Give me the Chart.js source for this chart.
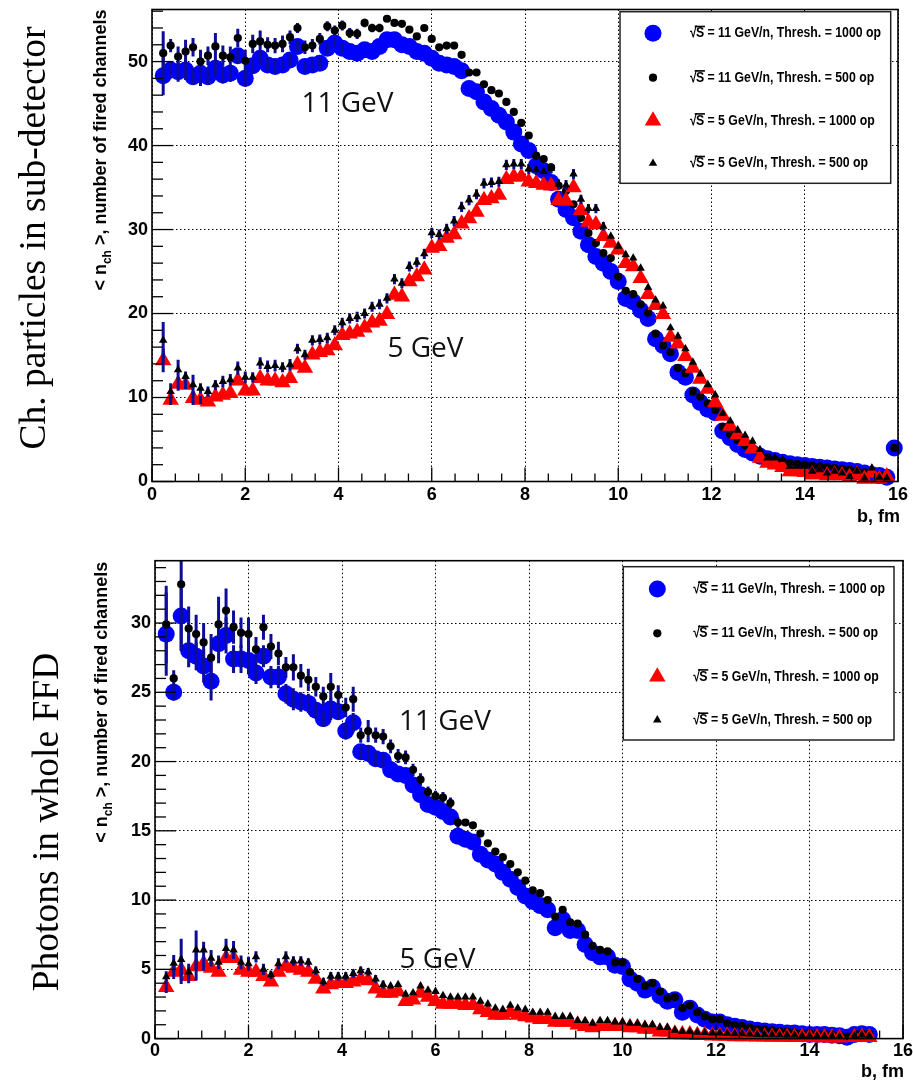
<!DOCTYPE html>
<html>
<head>
<meta charset="utf-8">
<title>Fired channels vs impact parameter</title>
<script src="https://cdn.jsdelivr.net/npm/chart.js@4.4.0/dist/chart.umd.min.js"></script>
<style>
  html, body { margin: 0; padding: 0; background: #fff; }
  #wrap { position: relative; width: 913px; height: 1085px; background: #fff; overflow: hidden; }
  canvas { position: absolute; left: 0; }
</style>
</head>
<body>
<div id="wrap">
  <canvas id="topPanel" width="913" height="525" style="top:0px"></canvas>
  <canvas id="bottomPanel" width="913" height="560" style="top:525px"></canvas>
</div>
<script>
// Impact parameter bin centres, fm
const B = [
  0.24, 0.40, 0.56, 0.72, 0.88, 1.04, 1.20, 1.36, 1.52, 1.68,
  1.84, 2.00, 2.16, 2.32, 2.48, 2.64, 2.80, 2.96, 3.12, 3.28,
  3.44, 3.60, 3.76, 3.92, 4.08, 4.24, 4.40, 4.56, 4.72, 4.88,
  5.04, 5.20, 5.36, 5.52, 5.68, 5.84, 6.00, 6.16, 6.32, 6.48,
  6.64, 6.80, 6.96, 7.12, 7.28, 7.44, 7.60, 7.76, 7.92, 8.08,
  8.24, 8.40, 8.56, 8.72, 8.88, 9.04, 9.20, 9.36, 9.52, 9.68,
  9.84, 10.00, 10.16, 10.32, 10.48, 10.64, 10.80, 10.96, 11.12, 11.28,
  11.44, 11.60, 11.76, 11.92, 12.08, 12.24, 12.40, 12.56, 12.72, 12.88,
  13.04, 13.20, 13.36, 13.52, 13.68, 13.84, 14.00, 14.16, 14.32, 14.48,
  14.64, 14.80, 14.96, 15.12, 15.28, 15.44, 15.60, 15.76, 15.92
];

// Charged particles in sub-detector: <n_ch> per bin
const chargedE11T1000 = [
  48.3, 49.0, 48.8, 49.0, 48.2, 48.6, 48.2, 49.2, 48.4, 48.6,
  50.7, 48.0, 49.5, 50.4, 49.6, 49.4, 49.6, 50.2, 51.8, 49.4,
  49.6, 49.8, 51.6, 52.2, 51.6, 51.2, 51.0, 51.4, 51.2, 51.8,
  52.6, 52.6, 52.0, 51.8, 51.2, 51.0, 50.4, 49.8, 49.6, 49.4,
  48.9, 46.8, 46.4, 45.2, 44.4, 43.6, 42.8, 41.6, 40.2, 39.4,
  37.6, 37.0, 35.6, 33.6, 32.4, 31.4, 29.8, 28.2, 26.8, 26.0,
  25.0, 23.8, 21.8, 21.4, 20.4, 19.4, 17.0, 16.2, 15.2, 13.0,
  12.4, 10.3, 9.4, 8.6, 8.2, 6.0, 5.2, 4.4, 3.8, 3.4,
  3.0, 2.7, 2.5, 2.3, 2.1, 2.0, 1.9, 1.8, 1.7, 1.6,
  1.5, 1.4, 1.3, 1.2, 1.0, 0.8, 0.7, 0.5, 4.0
];
const chargedE11T500 = [
  51.0, 51.9, 50.6, 51.2, 51.7, 50.0, 50.7, 51.8, 50.7, 50.5,
  52.8, 50.1, 52.1, 52.4, 52.0, 51.9, 52.1, 52.9, 54.0, 51.7,
  51.9, 52.7, 54.2, 53.7, 54.3, 53.4, 53.3, 54.6, 54.0, 54.0,
  55.1, 54.6, 54.5, 53.8, 53.0, 54.0, 52.7, 51.7, 51.9, 51.9,
  50.8, 48.7, 48.7, 47.3, 46.6, 46.2, 45.2, 44.0, 42.7, 41.2,
  38.8, 38.4, 37.4, 35.2, 34.6, 33.0, 31.4, 29.6, 28.4, 27.2,
  26.6, 24.4, 22.7, 22.3, 21.1, 20.1, 17.6, 16.2, 15.4, 13.5,
  12.9, 10.7, 10.1, 9.3, 8.5, 6.5, 5.6, 4.9, 4.3, 3.8,
  3.3, 2.9, 2.6, 2.4, 2.2, 2.1, 2.0, 1.9, 1.8, 1.7,
  1.6, 1.5, 1.4, 1.3, 1.1, 0.9, 0.8, 0.6, 4.0
];
const chargedE5T1000 = [
  14.4, 9.7, 11.6, 11.5, 9.9, 9.7, 9.5, 10.1, 10.3, 10.5,
  12.0, 10.8, 10.8, 12.3, 12.0, 12.0, 11.8, 12.3, 13.9, 13.5,
  15.1, 15.4, 15.6, 16.2, 17.4, 17.6, 17.8, 18.3, 18.9, 19.1,
  19.9, 22.2, 22.0, 23.8, 24.4, 25.2, 27.8, 28.0, 29.0, 29.4,
  30.7, 31.3, 32.1, 33.5, 33.7, 34.1, 36.0, 36.3, 36.3, 35.7,
  35.5, 35.3, 35.2, 33.5, 33.4, 35.0, 32.3, 30.9, 30.6, 29.2,
  28.4, 27.6, 26.0, 25.6, 24.2, 22.3, 21.0, 19.9, 17.2, 16.4,
  14.9, 13.5, 12.2, 11.0, 9.4, 7.8, 6.6, 5.6, 4.8, 3.9,
  2.8, 2.2, 2.0, 1.7, 1.2, 1.2, 1.1, 0.8, 0.9, 0.7,
  0.8, 0.7, 0.5, 0.8, 0.3, 1.0, 0.3, 0.6, null
];
const chargedE5T500 = [
  16.8, 10.7, 13.3, 12.5, 11.5, 11.1, 10.7, 11.5, 11.9, 12.1,
  13.5, 12.4, 12.4, 14.1, 13.7, 13.8, 13.6, 13.9, 15.8, 15.1,
  16.8, 16.9, 17.1, 18.0, 18.9, 19.4, 19.6, 20.0, 20.8, 21.1,
  21.8, 24.1, 23.6, 25.6, 26.1, 27.1, 29.6, 29.4, 30.1, 31.0,
  32.7, 33.5, 34.2, 35.5, 35.6, 35.7, 37.7, 37.8, 37.8, 37.2,
  37.1, 36.9, 37.3, 35.4, 35.3, 36.6, 33.6, 32.5, 32.5, 30.4,
  29.2, 28.0, 27.0, 26.6, 25.4, 23.1, 21.6, 20.9, 18.3, 17.3,
  15.8, 14.2, 12.8, 11.5, 10.3, 8.1, 7.2, 6.1, 5.5, 4.8,
  3.8, 2.8, 2.8, 2.6, 1.8, 1.8, 1.8, 1.2, 1.4, 1.0,
  1.2, 1.0, 0.6, 1.2, 0.4, 1.6, 0.5, 0.4, null
];

// Charged particles: statistical errors (first bins; later ones are smaller than the markers)
const chargedErrE11T1000 = [2.3, 1.0, 1.2, 1.2, 1.0, 1.5, 1.0, 1.0, 1.0, 1.0, 0.9, 1.0, 0.9, 0.8, 0.8, 0.8, 0.8, 0.7, 0.7, 0.7, 0.7, 0.6, 0.6, 0.6, 0.6];
const chargedErrE11T500 = [2.6, 0.8, 1.2, 1.4, 1.1, 1.4, 1.1, 1.6, 1.2, 1.3, 1.1, 1.3, 1.1, 1.3, 0.9, 0.9, 1.0, 0.8, 0.6, 0.8, 0.8, 0.7, 0.6, 0.6, 0.6, 0.6, 0.6, 0.5, 0.5, 0.5];
const chargedErrE5T1000 = [1.4, 0.6, 0.8, 0.5, 0.8, 0.5];
const chargedErrE5T500 = [
  2.2, 1.0, 1.2, 0.6, 1.2, 0.6, 0.6, 0.6, 0.7, 0.7, 0.8, 0.7, 0.6, 0.7, 0.7, 0.7, 0.6, 0.7, 0.6, 0.6,
  0.6, 0.6, 0.6, 0.6, 0.6, 0.6, 0.6, 0.6, 0.6, 0.6, 0.6, 0.6, 0.6, 0.6, 0.6, 0.6, 0.6, 0.6, 0.6, 0.6,
  0.6, 0.6, 0.6, 0.6, 0.6, 0.6, 0.6, 0.6, 0.6, 0.6, 0.6, 0.6, 0.6, 0.6, 0.6, 0.6, 0.55, 0.55, 0.55, 0.5
];

// Photons in whole FFD: <n_ch> per bin
const photonE11T1000 = [
  29.2, 25.0, 30.5, 28.0, 27.6, 26.9, 25.8, 28.5, 29.1, 27.4,
  27.4, 27.3, 26.4, 27.6, 26.1, 26.1, 24.9, 24.5, 24.3, 24.2,
  23.7, 23.1, 23.8, 23.6, 22.2, 22.8, 20.7, 20.6, 20.2, 20.1,
  19.4, 19.1, 19.0, 18.3, 17.6, 16.9, 16.7, 16.4, 16.0, 14.6,
  14.4, 14.2, 13.3, 12.9, 12.6, 12.0, 11.5, 10.9, 10.3, 9.9,
  9.6, 9.3, 8.0, 8.6, 7.8, 7.8, 6.8, 6.2, 5.9, 5.9,
  5.3, 5.2, 4.3, 4.0, 3.5, 3.7, 3.1, 2.7, 2.8, 1.9,
  2.2, 1.7, 1.4, 1.2, 1.2, 1.0, 0.9, 0.8, 0.7, 0.6,
  0.55, 0.5, 0.45, 0.4, 0.4, 0.35, 0.3, 0.3, 0.3, 0.25,
  0.2, 0.1, 0.3, 0.35, 0.3, null, null, null, null
];
const photonE11T500 = [
  29.9, 26.0, 32.8, 29.6, 29.2, 28.6, 27.5, 29.9, 30.9, 29.7,
  29.3, 29.2, 28.1, 29.7, 28.3, 27.8, 26.8, 26.8, 26.2, 25.9,
  25.4, 24.7, 25.4, 24.8, 23.9, 24.5, 21.9, 22.2, 21.9, 21.8,
  21.1, 20.4, 20.3, 19.4, 18.7, 17.8, 17.5, 17.4, 17.0, 15.6,
  15.6, 15.4, 14.8, 14.1, 13.5, 13.1, 12.6, 12.0, 11.4, 10.7,
  10.5, 10.0, 8.8, 9.3, 8.4, 8.3, 7.5, 6.7, 6.4, 6.3,
  5.5, 5.5, 4.8, 4.3, 3.8, 4.0, 3.4, 2.9, 3.0, 2.2,
  2.4, 1.9, 1.6, 1.4, 1.4, 1.1, 1.0, 0.9, 0.8, 0.7,
  0.65, 0.6, 0.55, 0.5, 0.45, 0.4, 0.4, 0.35, 0.35, 0.3,
  0.25, 0.15, 0.35, 0.4, 0.35, null, null, null, null
];
const photonE5T1000 = [
  3.7, 4.8, 4.95, 4.5, 5.2, 5.4, 5.1, 4.8, 5.8, 5.8,
  4.95, 4.8, 4.8, 4.5, 4.1, 4.8, 5.2, 5.1, 4.95, 4.8,
  4.3, 3.6, 3.9, 4.0, 4.0, 4.1, 4.3, 4.2, 3.6, 3.3,
  3.3, 3.4, 2.7, 2.8, 3.3, 3.0, 2.7, 2.5, 2.5, 2.5,
  2.4, 2.4, 2.1, 1.9, 1.7, 1.7, 1.9, 1.7, 1.6, 1.5,
  1.4, 1.4, 1.2, 1.2, 1.2, 1.0, 0.9, 0.8, 0.9, 0.9,
  0.9, 0.9, 0.8, 0.8, 0.7, 0.7, 0.5, 0.5, 0.35, 0.3,
  0.3, 0.25, 0.25, 0.2, 0.2, 0.18, 0.16, 0.16, 0.15, 0.14,
  0.13, 0.12, 0.12, 0.11, 0.1, 0.1, 0.09, 0.08, 0.08, 0.07,
  0.06, null, 0.1, 0.12, 0.1, null, null, null, null
];
const photonE5T500 = [
  4.46, 5.43, 5.7, 4.8, 6.4, 6.4, 5.8, 5.5, 6.5, 6.4,
  5.5, 5.4, 5.9, 5.0, 4.6, 5.4, 5.9, 5.6, 5.6, 5.5,
  4.9, 4.1, 4.5, 4.5, 4.5, 4.7, 4.9, 4.8, 4.3, 3.9,
  3.8, 3.9, 3.2, 3.3, 3.8, 3.5, 3.4, 3.1, 3.0, 3.0,
  3.0, 3.0, 2.7, 2.5, 2.2, 2.1, 2.4, 2.2, 2.1, 1.9,
  1.9, 1.9, 1.6, 1.6, 1.6, 1.3, 1.3, 1.1, 1.3, 1.3,
  1.2, 1.2, 1.1, 1.1, 1.0, 1.0, 0.8, 0.8, 0.6, 0.5,
  0.5, 0.45, 0.43, 0.4, 0.4, 0.38, 0.35, 0.35, 0.33, 0.3,
  0.3, 0.28, 0.27, 0.25, 0.25, 0.22, 0.2, 0.2, 0.18, 0.16,
  0.15, null, 0.2, 0.25, 0.2, null, null, null, null
];

// Photons: statistical errors
const photonErrE11T1000 = [3.0, 0.6, 2.5, 1.2, 1.0, 1.2, 1.4, 1.4, 1.3, 1.0, 1.0, 1.0, 0.8, 0.8, 0.8, 0.8, 0.7, 0.8, 0.7, 0.7, 0.6, 0.6, 0.8, 0.6, 0.6, 0.7, 0.5, 0.6, 0.5, 0.5];
const photonErrE11T500 = [2.8, 0.6, 4.8, 1.6, 1.4, 1.4, 1.7, 2.0, 1.6, 1.2, 1.1, 1.2, 0.9, 0.9, 0.9, 0.85, 0.75, 0.95, 0.85, 0.8, 0.7, 0.7, 1.0, 0.7, 0.7, 0.9, 0.55, 0.8, 0.55, 0.55, 0.5, 0.5, 0.5, 0.45, 0.45, 0.4, 0.4, 0.4, 0.4, 0.4];
const photonErrE5T1000 = [0.4, 0.5, 1.0, 0.5, 1.0, 0.5];
const photonErrE5T500 = [0.4, 0.6, 1.5, 0.6, 1.4, 0.6, 0.6, 0.5, 0.7, 0.65, 0.5, 0.5, 0.4, 0.4, 0.3, 0.4, 0.4, 0.35, 0.35, 0.3, 0.3, 0.3, 0.3, 0.3, 0.3, 0.3, 0.3, 0.3, 0.3, 0.3];

// Axis ticks
const X_TICKS = [0, 2, 4, 6, 8, 10, 12, 14, 16];
const CHARGED_Y_TICKS = [0, 10, 20, 30, 40, 50];
const PHOTON_Y_TICKS = [0, 5, 10, 15, 20, 25, 30];

// Legend entries
const LEGEND_TEXT = [
  'S = 11 GeV/n, Thresh. = 1000 op',
  'S = 11 GeV/n, Thresh. = 500 op',
  'S = 5 GeV/n, Thresh. = 1000 op',
  'S = 5 GeV/n, Thresh. = 500 op'
];

const SANS = '"Liberation Sans", Arial, Helvetica, sans-serif';
const SERIF = '"Liberation Serif", "Times New Roman", Times, serif';
const NOTE = '"Open Sans", "Noto Sans", sans-serif';
const NAVY = '#0d0d98';

const STYLE = [
  { pointStyle: 'circle',   r: 8.5, color: '#0000ff' },
  { pointStyle: 'circle',   r: 4.1, color: '#000000' },
  { pointStyle: 'triangle', r: 9.5, color: '#ff0000' },
  { pointStyle: 'triangle', r: 4.9, color: '#000000' }
];

Chart.defaults.font.family = SANS;

function toPoints(vals) {
  const out = [];
  vals.forEach((v, i) => { if (v !== null && v !== undefined) out.push({ x: B[i], y: v }); });
  return out;
}

function drawErrorBars(chart, idx) {
  const ds = chart.data.datasets[idx];
  const errs = ds.errors || [];
  const { ctx, chartArea: a, scales: { x, y } } = chart;
  ctx.save();
  ctx.beginPath();
  ctx.rect(a.left, a.top, a.right - a.left, a.bottom - a.top);
  ctx.clip();
  ctx.strokeStyle = NAVY;
  ctx.lineWidth = 3;
  errs.forEach((e, j) => {
    const v = ds.values[j];
    if (e == null || v == null) return;
    const px = x.getPixelForValue(B[j]);
    ctx.beginPath();
    ctx.moveTo(px, y.getPixelForValue(v + e));
    ctx.lineTo(px, y.getPixelForValue(v - e));
    ctx.stroke();
  });
  ctx.restore();
}

function sqrtLabel(ctx, x, y, rest, sx) {
  ctx.save();
  ctx.translate(x, y);
  ctx.scale(sx, 1);
  ctx.font = 'bold 15px ' + SANS;
  ctx.textBaseline = 'middle';
  ctx.textAlign = 'left';
  ctx.fillStyle = '#000';
  ctx.fillText('\u221A', 0, 0);
  const w0 = ctx.measureText('\u221A').width;
  const sw = ctx.measureText('S').width;
  ctx.fillText(rest, w0 - 1, 0);
  ctx.fillRect(w0 - 2.5, -7.6, sw + 2.5, 1.6);
  ctx.restore();
}

function labelWidth(ctx, rest) {
  ctx.save();
  ctx.font = 'bold 15px ' + SANS;
  const w = ctx.measureText('\u221A').width - 1 + ctx.measureText(rest).width;
  ctx.restore();
  return w;
}

function makeDecor(cfg) {
  return {
    id: 'decor',
    beforeDatasetDraw(chart, args) {
      if (args.index === 1) { drawErrorBars(chart, 0); drawErrorBars(chart, 1); }
      if (args.index === 3) { drawErrorBars(chart, 2); drawErrorBars(chart, 3); }
    },
    afterDraw(chart) {
      const { ctx, chartArea: a, scales: { x, y } } = chart;
      ctx.save();
      // inner tick marks on the left and bottom axes
      ctx.strokeStyle = '#000';
      ctx.lineWidth = 1.3;
      for (let k = 0; k * cfg.yMinor <= y.max + 1e-9; k++) {
        const v = k * cfg.yMinor;
        const py = y.getPixelForValue(v);
        const len = (k % cfg.yPer === 0) ? 21 : 11;
        ctx.beginPath(); ctx.moveTo(a.left, py); ctx.lineTo(a.left + len, py); ctx.stroke();
      }
      for (let k = 0; k * 0.5 <= 16 + 1e-9; k++) {
        const px = x.getPixelForValue(k * 0.5);
        const len = (k % 4 === 0) ? 14 : 8;
        ctx.beginPath(); ctx.moveTo(px, a.bottom); ctx.lineTo(px, a.bottom - len); ctx.stroke();
      }
      // frame
      ctx.lineWidth = 1.6;
      ctx.strokeRect(a.left, a.top, a.right - a.left, a.bottom - a.top);

      // energy annotations
      ctx.fillStyle = '#111';
      ctx.font = '28px ' + NOTE;
      ctx.textAlign = 'center';
      ctx.textBaseline = 'alphabetic';
      cfg.notes.forEach(n => ctx.fillText(n.t, n.cx, n.by));

      // legend
      const L = cfg.legend;
      ctx.fillStyle = '#fff';
      ctx.fillRect(L.x, L.y, L.w, L.h);
      ctx.strokeStyle = '#222';
      ctx.lineWidth = 1.5;
      ctx.strokeRect(L.x, L.y, L.w, L.h);
      const sx = L.textW / labelWidth(ctx, LEGEND_TEXT[0]);
      L.rows.forEach((ry, i) => {
        ctx.fillStyle = STYLE[i].color;
        Chart.helpers.drawPoint(ctx, { pointStyle: STYLE[i].pointStyle, radius: STYLE[i].r, borderWidth: 0, rotation: 0 }, L.markX, ry);
        sqrtLabel(ctx, L.textX, ry, LEGEND_TEXT[i], sx);
      });

      // x axis title
      ctx.fillStyle = '#000';
      ctx.font = 'bold 18px ' + SANS;
      ctx.textAlign = 'right';
      ctx.textBaseline = 'alphabetic';
      ctx.fillText('b, fm', cfg.xTitle.x, cfg.xTitle.y);

      // y axis title with subscript, running upwards and ending at the top of the axis
      ctx.save();
      ctx.translate(cfg.yTitle.x, a.top + cfg.yTitle.dy);
      ctx.rotate(-Math.PI / 2);
      const big = 'bold 18px ' + SANS, small = 'bold 12px ' + SANS;
      const p1 = '< n', p2 = 'ch', p3 = ' >, number of fired channels';
      ctx.font = big; const w1 = ctx.measureText(p1).width, w3 = ctx.measureText(p3).width;
      ctx.font = small; const w2 = ctx.measureText(p2).width;
      let cx = -(w1 + w2 + w3);
      ctx.textAlign = 'left';
      ctx.fillStyle = '#000';
      ctx.font = big; ctx.fillText(p1, cx, 0); cx += w1;
      ctx.font = small; ctx.fillText(p2, cx, 5); cx += w2;
      ctx.font = big; ctx.fillText(p3, cx, 0);
      ctx.restore();

      // panel description
      ctx.save();
      ctx.translate(cfg.side.x, cfg.side.y);
      ctx.rotate(-Math.PI / 2);
      ctx.font = cfg.side.size + 'px ' + SERIF;
      ctx.textAlign = 'center';
      ctx.textBaseline = 'alphabetic';
      ctx.fillStyle = '#000';
      ctx.fillText(cfg.side.t, 0, 0);
      ctx.restore();

      ctx.restore();
    }
  };
}

function makePanel(canvasId, series, errors, cfg) {
  const datasets = series.map((vals, i) => ({
    label: LEGEND_TEXT[i],
    data: toPoints(vals),
    values: vals,
    errors: errors[i],
    pointStyle: STYLE[i].pointStyle,
    pointRadius: STYLE[i].r,
    pointHoverRadius: STYLE[i].r,
    pointBackgroundColor: STYLE[i].color,
    pointBorderColor: STYLE[i].color,
    pointBorderWidth: 0,
    showLine: false,
    clip: false,
    order: 4 - i
  }));
  const tickFont = { family: SANS, size: 18, weight: 'bold' };
  return new Chart(document.getElementById(canvasId), {
    type: 'scatter',
    data: { datasets },
    options: {
      responsive: false,
      animation: false,
      devicePixelRatio: 1,
      events: [],
      layout: { padding: { left: 0, top: cfg.padTop, right: cfg.padRight, bottom: 0 } },
      plugins: { legend: { display: false }, tooltip: { enabled: false } },
      scales: {
        x: {
          type: 'linear', min: 0, max: 16,
          afterBuildTicks: s => { s.ticks = X_TICKS.map(v => ({ value: v })); },
          ticks: { color: '#000', font: tickFont, padding: cfg.xPad, maxRotation: 0, autoSkip: false },
          grid: { color: '#000', lineWidth: 1, drawTicks: false },
          border: { display: false, dash: [1.5, 2.5] },
          afterFit: s => { s.height = cfg.xHeight; s.paddingLeft = 0; s.paddingRight = 0; }
        },
        y: {
          type: 'linear', min: 0, max: cfg.yMax,
          afterBuildTicks: s => { s.ticks = cfg.yTicks.map(v => ({ value: v })); },
          ticks: { color: '#000', font: tickFont, padding: 4, autoSkip: false },
          grid: { color: '#000', lineWidth: 1, drawTicks: false },
          border: { display: false, dash: [1.5, 2.5] },
          afterFit: s => { s.width = cfg.yWidth; s.paddingTop = 0; s.paddingBottom = 0; }
        }
      }
    },
    plugins: [makeDecor(cfg)]
  });
}

makePanel('topPanel',
  [chargedE11T1000, chargedE11T500, chargedE5T1000, chargedE5T500],
  [chargedErrE11T1000, chargedErrE11T500, chargedErrE5T1000, chargedErrE5T500],
  {
    padTop: 6, padRight: 15, xHeight: 43.5, yWidth: 152, xPad: 3,
    yMax: 56.2, yTicks: CHARGED_Y_TICKS, yMinor: 2, yPer: 5,
    notes: [{ t: '11 GeV', cx: 347.5, by: 111.7 }, { t: '5 GeV', cx: 425.5, by: 357.3 }],
    legend: { x: 620, y: 11.7, w: 270.7, h: 171.6, markX: 653, textX: 690, textW: 191, rows: [33.3, 77.7, 120.7, 163.3] },
    xTitle: { x: 900, y: 522 },
    yTitle: { x: 106, dy: 0 },
    side: { t: 'Ch. particles in sub-detector', x: 45, y: 238, size: 37.5 }
  });

makePanel('bottomPanel',
  [photonE11T1000, photonE11T500, photonE5T1000, photonE5T500],
  [photonErrE11T1000, photonErrE11T500, photonErrE5T1000, photonErrE5T500],
  {
    padTop: 35.7, padRight: 10, xHeight: 46.4, yWidth: 155, xPad: 2,
    yMax: 34.5, yTicks: PHOTON_Y_TICKS, yMinor: 1, yPer: 5,
    notes: [{ t: '11 GeV', cx: 445, by: 205 }, { t: '5 GeV', cx: 437.5, by: 443 }],
    legend: { x: 623.3, y: 41.7, w: 270.7, h: 173.3, markX: 657.3, textX: 693.3, textW: 191.7, rows: [64, 108.3, 151.7, 195] },
    xTitle: { x: 904, y: 552 },
    yTitle: { x: 107, dy: 1 },
    side: { t: 'Photons in whole FFD', x: 58, y: 297, size: 37.5 }
  });
</script>
</body>
</html>
